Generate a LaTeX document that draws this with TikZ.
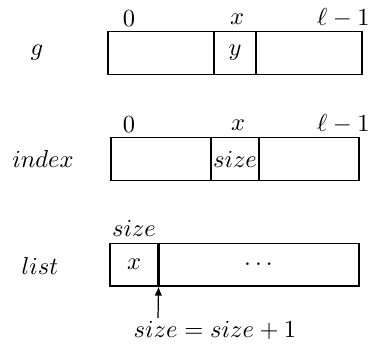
\documentclass[tikz,border=0pt]{standalone}
\usetikzlibrary{arrows.meta}
\begin{document}
\begin{tikzpicture}[x=0.408pt,y=-0.408pt,
  cell/.style={draw,line width=0.45pt,rectangle,inner sep=0pt,minimum height=17.2pt},
  lbl/.style={inner sep=0pt,anchor=center},
  conn/.style={line width=0.5pt,-{Latex[length=3.7pt,width=3pt]}}]
\useasboundingbox (0,0) rectangle (371,346);
% row g
\node[lbl] (gname) at (37,53) {$g$};
\node[cell,minimum width={106*0.408pt}] (g1) at (161,53) {};
\node[cell,minimum width={42*0.408pt}] (g2) at (235,53) {$y$};
\node[cell,minimum width={106*0.408pt}] (g3) at (309,53) {};
\node[lbl] (g0) at (129,19) {$0$};
\node[lbl] (gx) at (237,19) {$x$};
\node[lbl,anchor=east] (gl) at (370,18) {$\ell-1$};
% row index
\node[lbl] (iname) at (43,159) {$index$};
\node[cell,minimum width={100*0.408pt}] (i1) at (161,159) {};
\node[cell,minimum width={48*0.408pt}] (i2) at (235,159) {$size$};
\node[cell,minimum width={100*0.408pt}] (i3) at (309,159) {};
\node[lbl] (i0) at (129,125) {$0$};
\node[lbl] (ix) at (238,125) {$x$};
\node[lbl,anchor=east] (il) at (370,124) {$\ell-1$};
% row list
\node[lbl] (lname) at (40,266) {$list$};
\node[cell,minimum width={48*0.408pt},minimum height=17.5pt] (l1) at (134,264.5) {$x$};
\node[cell,minimum width={201*0.408pt},minimum height=17.5pt] (l2) at (258.5,264.5) {$\dots$};
\draw[line width=0.8pt] (l1.north east) -- (l1.south east);
\node[lbl] (lsize) at (134,228) {$size$};
\coordinate (tail) at (158,318);
\draw[conn] (tail) -- (l1.south east);
\node[lbl] (upd) at (215,330) {$size=size+1$};
\end{tikzpicture}
\end{document}
